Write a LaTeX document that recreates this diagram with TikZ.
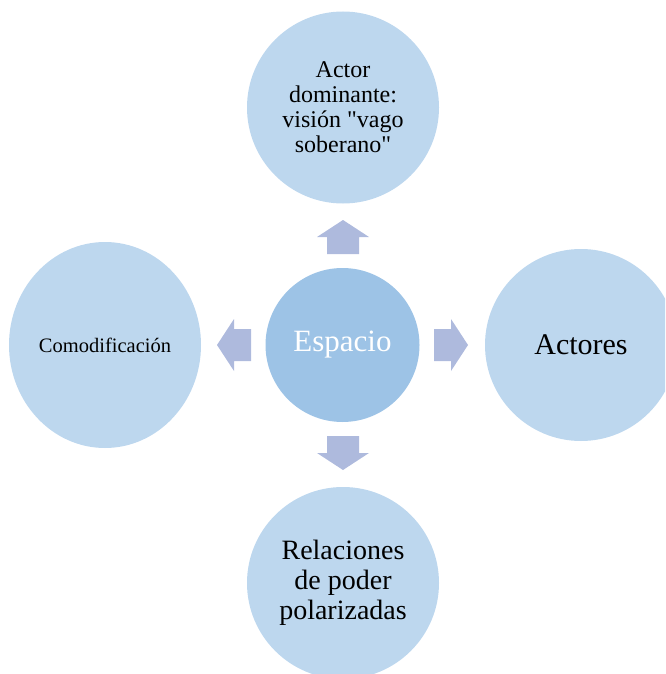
\documentclass[tikz,border=0pt]{standalone}
\usepackage{fontspec}
\setmainfont{Liberation Serif}
\usetikzlibrary{shapes.geometric}
\definecolor{outerblue}{HTML}{BDD7EE}
\definecolor{innerblue}{HTML}{9DC3E6}
\definecolor{arrowblue}{HTML}{AEBADD}
\tikzset{
  outercircle/.style={circle, fill=outerblue, inner sep=0pt, minimum size=192pt, align=center, text=black},
  outerellipse/.style={ellipse, fill=outerblue, inner sep=0pt, minimum width=192pt, minimum height=206pt, align=center, text=black},
  innercircle/.style={circle, fill=innerblue, inner sep=0pt, minimum size=154pt, text=white},
  blockarrow/.pic={\fill[arrowblue] (-17,-16) -- (0,-16) -- (0,-26) -- (17,0) -- (0,26) -- (0,16) -- (-17,16) -- cycle;}
}
\begin{document}
\begin{tikzpicture}[x=1pt,y=-1pt]
\useasboundingbox (0,0) rectangle (665,674);
\clip (0,0) rectangle (665,674);
\node[innercircle, font=\fontsize{31}{33}\selectfont] (esp) at (342.5,345) {Espacio};
\node[outercircle, font=\fontsize{24}{25}\selectfont] (top) at (343,107.5) {Actor\\dominante:\\visión \textquotedbl vago\\soberano\textquotedbl};
\node[outercircle, font=\fontsize{30}{32}\selectfont] (right) at (581,345) {Actores};
\node[outerellipse, font=\fontsize{20.5}{22}\selectfont] (left) at (105,345) {Comodificación};
\node[outercircle, font=\fontsize{28}{30}\selectfont] (bottom) at (343,583) {Relaciones\\de poder\\polarizadas};
\pic[rotate=90] at (343,237) {blockarrow};
\pic[rotate=-90] at (343,453) {blockarrow};
\pic at (451,345) {blockarrow};
\pic[rotate=180] at (234,345) {blockarrow};
\end{tikzpicture}
\end{document}
